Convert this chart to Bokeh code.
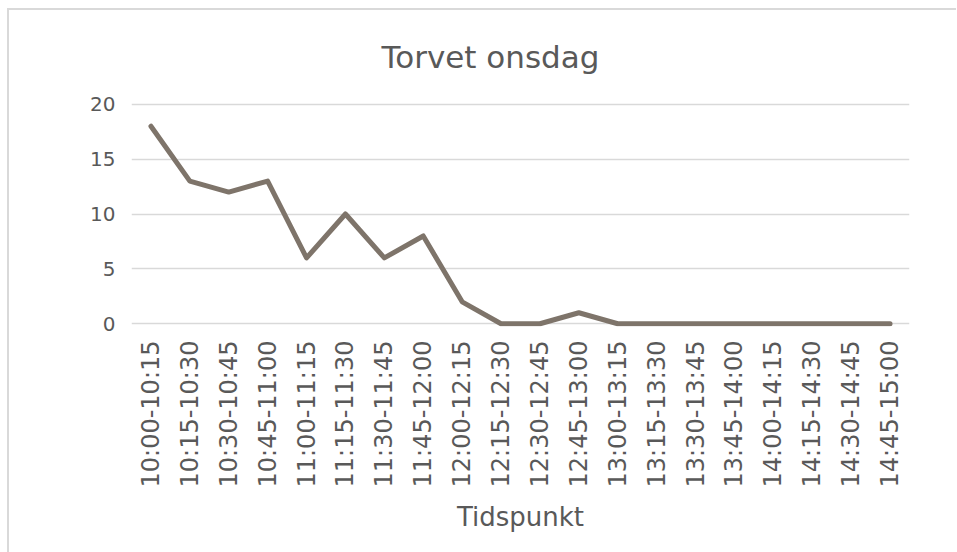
import math
from bokeh.plotting import figure
from bokeh.models import FactorRange, Range1d, ColumnDataSource
from bokeh.embed import file_html
from bokeh.resources import INLINE

categories = ["10:00-10:15", "10:15-10:30", "10:30-10:45", "10:45-11:00",
              "11:00-11:15", "11:15-11:30", "11:30-11:45", "11:45-12:00",
              "12:00-12:15", "12:15-12:30", "12:30-12:45", "12:45-13:00",
              "13:00-13:15", "13:15-13:30", "13:30-13:45", "13:45-14:00",
              "14:00-14:15", "14:15-14:30", "14:30-14:45", "14:45-15:00"]
values = [18, 13, 12, 13, 6, 10, 6, 8, 2, 0, 0, 1, 0, 0, 0, 0, 0, 0, 0, 0]
y_ticks = [0, 5, 10, 15, 20]

FONT = "DejaVu Sans"
TXT = "#595959"

p = figure(width=949, height=544, output_backend="svg", toolbar_location=None,
           x_range=FactorRange(*categories, range_padding=0),
           y_range=Range1d(-0.25, 20.25),
           min_border_left=122, min_border_right=49,
           min_border_top=90, min_border_bottom=228,
           title="Torvet onsdag")
p.styles = {"border-left": "2px solid #d9d9d9", "border-top": "2px solid #d9d9d9",
            "margin-left": "7px", "margin-top": "8px"}

src = ColumnDataSource(dict(x=categories, y=values))
p.line("x", "y", source=src, line_color="#7e746a", line_width=5,
       line_join="round", line_cap="round")

p.outline_line_color = None
p.background_fill_color = "white"
p.border_fill_color = "white"

p.title.text_font = FONT
p.title.text_font_size = "31px"
p.title.text_font_style = "normal"
p.title.text_color = TXT
p.title.align = "left"
p.title.offset = 250
p.title.standoff = 53

p.xgrid.grid_line_color = None
p.ygrid.grid_line_color = "#d9d9d9"
p.ygrid.grid_line_width = 1.5
p.yaxis.ticker = y_ticks

p.yaxis.axis_line_color = None
p.yaxis.major_tick_line_color = None
p.yaxis.minor_tick_line_color = None
p.yaxis.major_tick_out = 0
p.yaxis.major_label_standoff = 16
p.yaxis.major_label_text_font = FONT
p.yaxis.major_label_text_font_size = "20px"
p.yaxis.major_label_text_color = TXT

p.xaxis.axis_line_color = None
p.xaxis.major_tick_line_color = None
p.xaxis.minor_tick_line_color = None
p.xaxis.major_tick_out = 0
p.xaxis.major_label_orientation = math.pi / 2
p.xaxis.major_label_standoff = 14
p.xaxis.major_label_text_font = FONT
p.xaxis.major_label_text_font_size = "24px"
p.xaxis.major_label_text_color = TXT
p.xaxis.axis_label = "Tidspunkt"
p.xaxis.axis_label_text_font = FONT
p.xaxis.axis_label_text_font_size = "26px"
p.xaxis.axis_label_text_font_style = "normal"
p.xaxis.axis_label_text_color = TXT
p.xaxis.axis_label_standoff = 12

open("out.html", "w").write(file_html(p, INLINE))
